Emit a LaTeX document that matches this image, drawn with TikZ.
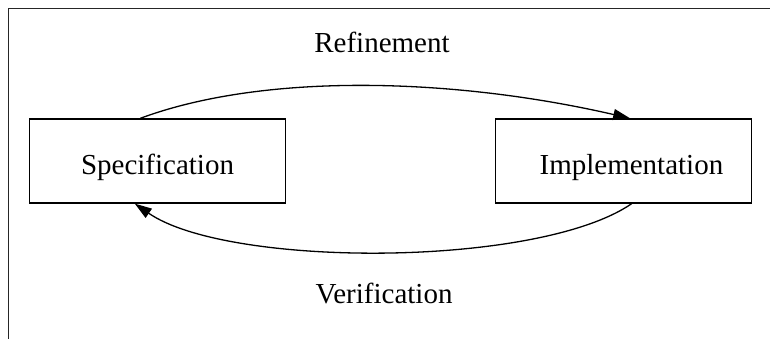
\documentclass[tikz,border=0pt]{standalone}
\usepackage{fontspec}
\setmainfont{Liberation Serif}
\usetikzlibrary{arrows.meta}
\begin{document}
\begin{tikzpicture}[x=1pt,y=-1pt,
  every node/.style={font=\fontsize{29}{34}\selectfont},
  box/.style={draw, line width=1.3pt, minimum width=256pt, minimum height=84pt, inner sep=0pt, text height=30pt, text depth=2pt},
  lbl/.style={anchor=base, inner sep=0pt},
  conn/.style={line width=1.3pt, -{Triangle[length=17pt,width=11pt]}},
  frame/.style={line width=1.7pt, draw=black!85}]
\useasboundingbox (0,0) rectangle (770,339);
\draw[frame] (770,8.5) -- (8.5,8.5) -- (8.5,339);
\node[box] (spec) at (157.5,161) {Specification};
\node[box] (impl) at (623.4,161) {\hspace*{16pt}Implementation};
\node[lbl] (refine) at (382,53) {Refinement};
\node[lbl] (verif) at (384,303) {Verification};
\draw[conn] (spec.112) .. controls (265,72) and (455,78) .. (impl.81);
\draw[conn] (impl.-79) .. controls (538,268) and (228,268) .. (spec.-118);
\end{tikzpicture}
\end{document}
